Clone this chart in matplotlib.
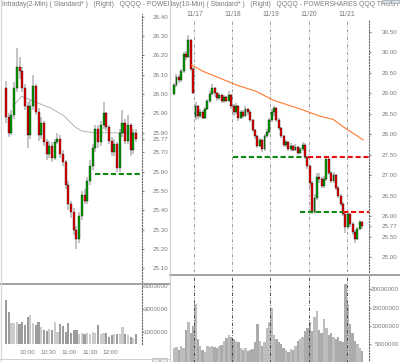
import matplotlib
matplotlib.use("Agg")
import matplotlib.pyplot as plt
from matplotlib import font_manager
from matplotlib.patches import Rectangle
from matplotlib.lines import Line2D

# ---------------- left chart: intraday 2-min (drawn as 49 bars) ----------------
l_close = [25.88, 25.80, 25.89, 26.03, 26.14, 26.12, 26.03, 25.94, 25.79, 25.94,
           26.04, 25.91, 25.79, 25.85, 25.75, 25.69, 25.73, 25.67, 25.75, 25.77,
           25.69, 25.65, 25.53, 25.43, 25.39, 25.30, 25.25, 25.37, 25.48, 25.45,
           25.55, 25.63, 25.72, 25.82, 25.75, 25.84, 25.90, 25.83, 25.76, 25.70,
           25.74, 25.62, 25.80, 25.85, 25.76, 25.84, 25.71, 25.80, 25.77]
l_open = [26.03] + l_close[:-1]
l_high = [26.07, 25.90, 25.92, 26.06, 26.24, 26.19, 26.14, 26.05, 25.96, 25.97,
          26.10, 26.05, 25.93, 25.88, 25.86, 25.77, 25.76, 25.75, 25.77, 25.80,
          25.79, 25.71, 25.66, 25.55, 25.45, 25.41, 25.32, 25.39, 25.50, 25.51,
          25.57, 25.66, 25.74, 25.84, 25.84, 25.86, 25.96, 25.91, 25.84, 25.78,
          25.77, 25.75, 25.82, 25.92, 25.87, 25.89, 25.85, 25.82, 25.82]
l_low = [25.85, 25.78, 25.79, 25.87, 26.01, 26.08, 26.01, 25.92, 25.72, 25.77,
         25.92, 25.89, 25.76, 25.77, 25.73, 25.66, 25.67, 25.65, 25.66, 25.74,
         25.67, 25.63, 25.51, 25.40, 25.36, 25.27, 25.20, 25.23, 25.35, 25.43,
         25.43, 25.53, 25.61, 25.70, 25.72, 25.73, 25.82, 25.81, 25.74, 25.68,
         25.68, 25.60, 25.60, 25.78, 25.74, 25.74, 25.68, 25.69, 25.75]
l_vol = [3.8, 2.7, 1.8, 1.8, 1.9, 1.7, 1.9, 1.6, 2.3, 2.5,
         1.8, 1.6, 1.9, 1.4, 1.2, 1.1, 1.3, 1.2, 1.9, 1.0,
         1.7, 1.5, 1.0, 1.8, 0.9, 1.2, 1.2, 0.8, 0.9, 0.8,
         0.9, 0.8, 1.0, 0.9, 1.6, 0.8, 0.9, 0.9, 0.6, 0.7,
         0.8, 0.8, 0.8, 1.4, 0.8, 0.7, 0.6, 0.5, 0.8]  # millions
l_ma_x = [2.7, 5.8, 10.7, 16.2, 21.2, 25.5, 27.9, 32.2, 48.2]
l_ma_y = [25.94, 25.99, 25.96, 25.93, 25.89, 25.83, 25.81, 25.80, 25.80]
l_support = 25.585
l_support_from = 32.8
l_ticks = [26.40, 26.30, 26.20, 26.10, 26.00, 25.90, 25.80, 25.77, 25.70,
           25.60, 25.50, 25.40, 25.30, 25.20, 25.10]
l_vol_ticks = [5000000, 3000000, 1000000]
l_times = ["10:00", "10:30", "11:00", "11:30", "12:00"]
l_time_min = [30, 60, 90, 120, 150]      # minutes after 9:30
l_bar_min = 190 / 49

# ---------------- right chart: intraday 10-min, 11/14 - 11/21 ----------------
r_close = [29.20, 29.40, 29.32, 29.53, 29.95, 29.88, 30.30, 29.60, 29.00,
           28.70, 28.45, 28.55, 28.40, 28.62, 28.80, 28.98, 29.12, 29.00, 28.88, 28.95, 28.80, 28.90, 28.82, 28.95, 28.70,
           28.55, 28.70, 28.40, 28.55, 28.45, 28.62, 28.55, 28.35, 28.10, 27.95, 27.72, 27.85, 27.65, 27.95, 28.05, 28.35,
           28.55, 28.63, 28.35, 28.15, 27.95, 27.75, 27.80, 27.65, 27.72, 27.62, 27.70, 27.55, 27.65, 27.75, 27.45, 27.22,
           26.80, 26.10, 26.45, 26.95, 26.90, 26.75, 26.90, 27.40, 27.05, 26.85, 27.00, 26.70, 26.50, 26.30, 26.05, 25.75,
           26.05, 25.80, 25.62, 25.45, 25.70, 25.85, 25.77]
r_open = [28.99] + r_close[:-1]
r_open[9] = 28.42  # gap open on 11/17
r_high = [29.25, 29.46, 29.45, 29.58, 30.00, 30.02, 30.42, 30.33, 29.65,
          28.78, 28.72, 28.62, 28.58, 28.66, 28.85, 29.05, 29.22, 29.15, 29.03, 29.00, 28.98, 28.95, 28.94, 29.05, 28.98,
          28.74, 28.76, 28.72, 28.60, 28.58, 28.68, 28.65, 28.58, 28.38, 28.14, 27.98, 27.90, 27.88, 28.00, 28.12, 28.40,
          28.62, 28.70, 28.66, 28.40, 28.18, 27.98, 27.86, 27.84, 27.78, 27.75, 27.76, 27.72, 27.70, 27.82, 27.78, 27.48,
          27.25, 26.85, 26.55, 27.05, 27.05, 26.95, 26.98, 27.45, 27.42, 27.10, 27.08, 27.03, 26.74, 26.55, 26.34, 26.10,
          26.12, 26.08, 25.85, 25.66, 25.75, 25.90, 25.88]
r_low = [28.95, 29.15, 29.25, 29.28, 29.50, 29.82, 29.85, 29.55, 28.97,
         28.35, 28.38, 28.40, 28.36, 28.38, 28.58, 28.76, 28.95, 28.92, 28.82, 28.84, 28.76, 28.77, 28.78, 28.80, 28.62,
         28.45, 28.50, 28.33, 28.36, 28.40, 28.42, 28.48, 28.30, 28.05, 27.88, 27.66, 27.68, 27.57, 27.60, 27.90, 28.00,
         28.30, 28.45, 28.30, 28.10, 27.90, 27.70, 27.70, 27.60, 27.60, 27.58, 27.58, 27.50, 27.52, 27.60, 27.40, 27.15,
         26.72, 26.05, 26.05, 26.40, 26.82, 26.68, 26.70, 26.85, 27.00, 26.80, 26.82, 26.65, 26.45, 26.25, 26.00, 25.60,
         25.70, 25.74, 25.55, 25.34, 25.42, 25.66, 25.70]
r_vol = [3.9, 4.2, 3.5, 4.5, 4.0, 9.0, 11.0, 8.0, 10.0,
         16.0, 6.5, 4.5, 3.5, 3.0, 4.5, 4.2, 4.6, 4.3, 4.0, 4.5, 4.8, 6.0, 6.8, 7.5, 7.0,
         6.5, 6.0, 5.5, 4.0, 3.5, 4.0, 3.2, 3.5, 3.8, 5.5, 10.5, 6.0, 4.5, 5.5, 9.5, 11.0,
         15.0, 7.5, 6.5, 5.5, 5.0, 4.0, 3.5, 3.0, 3.8, 3.5, 4.5, 6.0, 6.5, 7.0, 8.5, 9.5,
         11.0, 8.5, 12.5, 14.2, 9.0, 8.0, 12.0, 9.5, 7.5, 8.0, 7.0, 6.5, 7.0, 6.0, 5.5, 21.5,
         16.0, 10.5, 8.0, 6.0, 5.0, 4.0, 3.2]  # millions
r_ma_x = [7.4, 12.3, 26.3, 34.7, 41.7, 54.3, 61.3, 66.9, 71.1, 79.5]
r_ma_y = [29.69, 29.53, 29.20, 29.04, 28.83, 28.59, 28.44, 28.36, 28.18, 27.86]
r_days = ["11/17", "11/18", "11/19", "11/20", "11/21"]
r_day_pos = [8.5, 24.5, 40.5, 56.5, 72.5]
r_green_lv = [(24.6, 55.0, 27.44), (52.9, 71.1, 26.10)]
r_red_lv = [(56.4, 27.45), (71.1, 26.11)]
r_ticks = [30.50, 30.00, 29.50, 29.00, 28.50, 28.00, 27.50, 27.00, 26.50,
           26.00, 25.77, 25.50, 25.00]
r_vol_ticks = [20000000, 15000000, 10000000, 5000000]

# narrow font if there is one, otherwise a smaller regular one
names = {f.name for f in font_manager.fontManager.ttflist}
if 'Liberation Sans Narrow' in names:
    plt.rcParams['font.family'] = ['Liberation Sans Narrow', 'DejaVu Sans']
    FS, FT = 5.3, 5.5
else:
    plt.rcParams['font.family'] = ['Liberation Sans', 'DejaVu Sans']
    FS, FT = 4.5, 4.9

W, H = 400, 362
GREEN, RED, WICK = '#00a400', '#ee0000', '#b4b4b4'
TXT = '#7a7a7a'


def rect(x0, y0, x1, y1):
    return [x0 / W, 1 - y1 / H, (x1 - x0) / W, (y1 - y0) / H]


def candles(ax, o, c, h, l, width):
    for i in range(len(c)):
        ax.vlines(i, l[i], h[i], color=WICK, lw=1.1, zorder=2)
        lo = min(o[i], c[i])
        ht = max(abs(c[i] - o[i]), 0.008)
        ax.add_patch(Rectangle((i - width / 2, lo), width, ht,
                               facecolor=GREEN if c[i] >= o[i] else RED,
                               edgecolor='black', lw=0.25, zorder=3))


def style(ax, pad):
    for s in ['top', 'left', 'bottom']:
        ax.spines[s].set_visible(False)
    ax.spines['right'].set_linestyle(':')
    ax.spines['right'].set_color('#666666')
    ax.spines['right'].set_linewidth(0.8)
    ax.yaxis.tick_right()
    ax.tick_params(axis='y', length=1.5, color='#888888', pad=pad,
                   labelsize=FS, labelcolor=TXT)
    ax.tick_params(axis='x', bottom=False, labelbottom=False)
    for t in ax.get_yticklabels():
        t.set_ha('right')
    ax.patch.set_alpha(0)


fig = plt.figure(figsize=(W / 100, H / 100), dpi=100)

# backgrounds with clipped titles
bg_l = fig.add_axes(rect(0, 0, 169, H))
bg_r = fig.add_axes(rect(170, 0, W, H))
for bg in (bg_l, bg_r):
    bg.set_axis_off()
bg_l.text(2 / 169, 1 - 5 / H, "Intraday(2-Min) ( Standard* )   (Right)   QQQQ - POWERSHARES QQQ TRUST UNIT",
          transform=bg_l.transAxes, fontsize=FT, color=TXT, va='center', ha='left', clip_on=True)
bg_r.text(-15 / 230, 1 - 5 / H, "Intraday(10-Min) ( Standard* )   (Right)   QQQQ - POWERSHARES QQQ TRUST UNIT",
          transform=bg_r.transAxes, fontsize=FT, color=TXT, va='center', ha='left', clip_on=True)

# left price
axl = fig.add_axes(rect(1, 14, 142, 282))
candles(axl, l_open, l_close, l_high, l_low, 0.75)
axl.plot(l_ma_x, l_ma_y, color='#a8a8a8', lw=0.6, zorder=1)
axl.set_xlim(-1.85, 50.2)
axl.set_ylim(25.029, 26.414)
axl.hlines(l_support, l_support_from, 50.2, color='#108a10', lw=1.5,
           linestyles=[(0, (2.5, 1.3))], zorder=4)
axl.set_yticks(l_ticks, [f"{v:.2f}" for v in l_ticks])
style(axl, 17.2)

# left volume
axlv = fig.add_axes(rect(1, 285, 142, 343.5))
axlv.bar(range(len(l_vol)), [v * 1e6 for v in l_vol], 0.8,
         color=['#cbcbcb' if c >= o else '#9c9c9c' for o, c in zip(l_open, l_close)])
axlv.set_xlim(-1.85, 50.2)
axlv.set_ylim(0, 5.087e6)
axlv.set_yticks(l_vol_ticks, [str(v) for v in l_vol_ticks])
style(axlv, 17.2)
axlv.tick_params(axis='x', labelbottom=True, length=0, pad=5, labelsize=FS, labelcolor=TXT)
axlv.set_xticks([m / l_bar_min for m in l_time_min], l_times)

# right price
axr = fig.add_axes(rect(170, 20, 369, 272))
for d in r_day_pos:
    axr.axvline(d, color='#8c8c8c', lw=0.6, ls=(0, (4, 2, 1, 2)), zorder=1)
candles(axr, r_open, r_close, r_high, r_low, 0.8)
axr.plot(r_ma_x, r_ma_y, color='#ff7a30', lw=0.8, zorder=4)
axr.set_xlim(-1.72, 81.9)
axr.set_ylim(24.642, 30.785)
for x0, x1, y in r_green_lv:
    axr.hlines(y, x0, x1, color='#108a10', lw=1.5, linestyles=[(0, (2.5, 1.3))], zorder=5)
for x0, y in r_red_lv:
    axr.hlines(y, x0, 81.9, color='#ee1010', lw=1.5, linestyles=[(0, (2.5, 1.3))], zorder=5)
axr.set_yticks(r_ticks, [f"{v:.2f}" for v in r_ticks])
style(axr, 18.7)
for d, lab in zip(r_day_pos, r_days):
    axr.text(d, 1 + 6 / 252, lab, transform=axr.get_xaxis_transform(), ha='center',
             va='center', fontsize=FT, color=TXT, clip_on=False)

# right volume
axrv = fig.add_axes(rect(170, 276, 369, 362.5))
axrv.bar(range(len(r_vol)), [v * 1e6 for v in r_vol], 1.0,
         color=['#bdbdbd' if c >= o else '#ababab' for o, c in zip(r_open, r_close)])
for d in r_day_pos:
    axrv.axvline(d, color='#333333', lw=0.6, ls=(0, (4, 2, 1, 2)), zorder=3)
axrv.set_xlim(-1.72, 81.9)
axrv.set_ylim(0, 23.63e6)
axrv.set_yticks(r_vol_ticks, [str(v) for v in r_vol_ticks])
style(axrv, 20.1)


# panel frames
def hline(y, x0, x1, color, lw):
    fig.add_artist(Line2D([x0 / W, x1 / W], [1 - y / H, 1 - y / H], color=color, lw=lw))


def vline(x, y0, y1, color, lw):
    fig.add_artist(Line2D([x / W, x / W], [1 - y0 / H, 1 - y1 / H], color=color, lw=lw))


hline(283.7, 0, 169.5, '#9a9a9a', 1.3)
hline(274.7, 170, W, '#9a9a9a', 1.3)
vline(169.7, 0, H, '#d0d0d0', 0.9)
vline(0.6, 0, H, '#d8d8d8', 0.9)
hline(358.5, 0, 169, '#d0d0d0', 0.7)
for bx in (152, 160):
    fig.add_artist(Rectangle((bx / W, 0), 7 / W, 4 / H, transform=fig.transFigure,
                             facecolor='#e8e8e8', edgecolor='#999999', lw=0.4))
for bx in (382, 391):
    fig.add_artist(Rectangle((bx / W, 1 - 3 / H), 8 / W, 3 / H, transform=fig.transFigure,
                             facecolor='#d8dce4', edgecolor='#8890a0', lw=0.4))

fig.savefig("out.png", dpi=100)
